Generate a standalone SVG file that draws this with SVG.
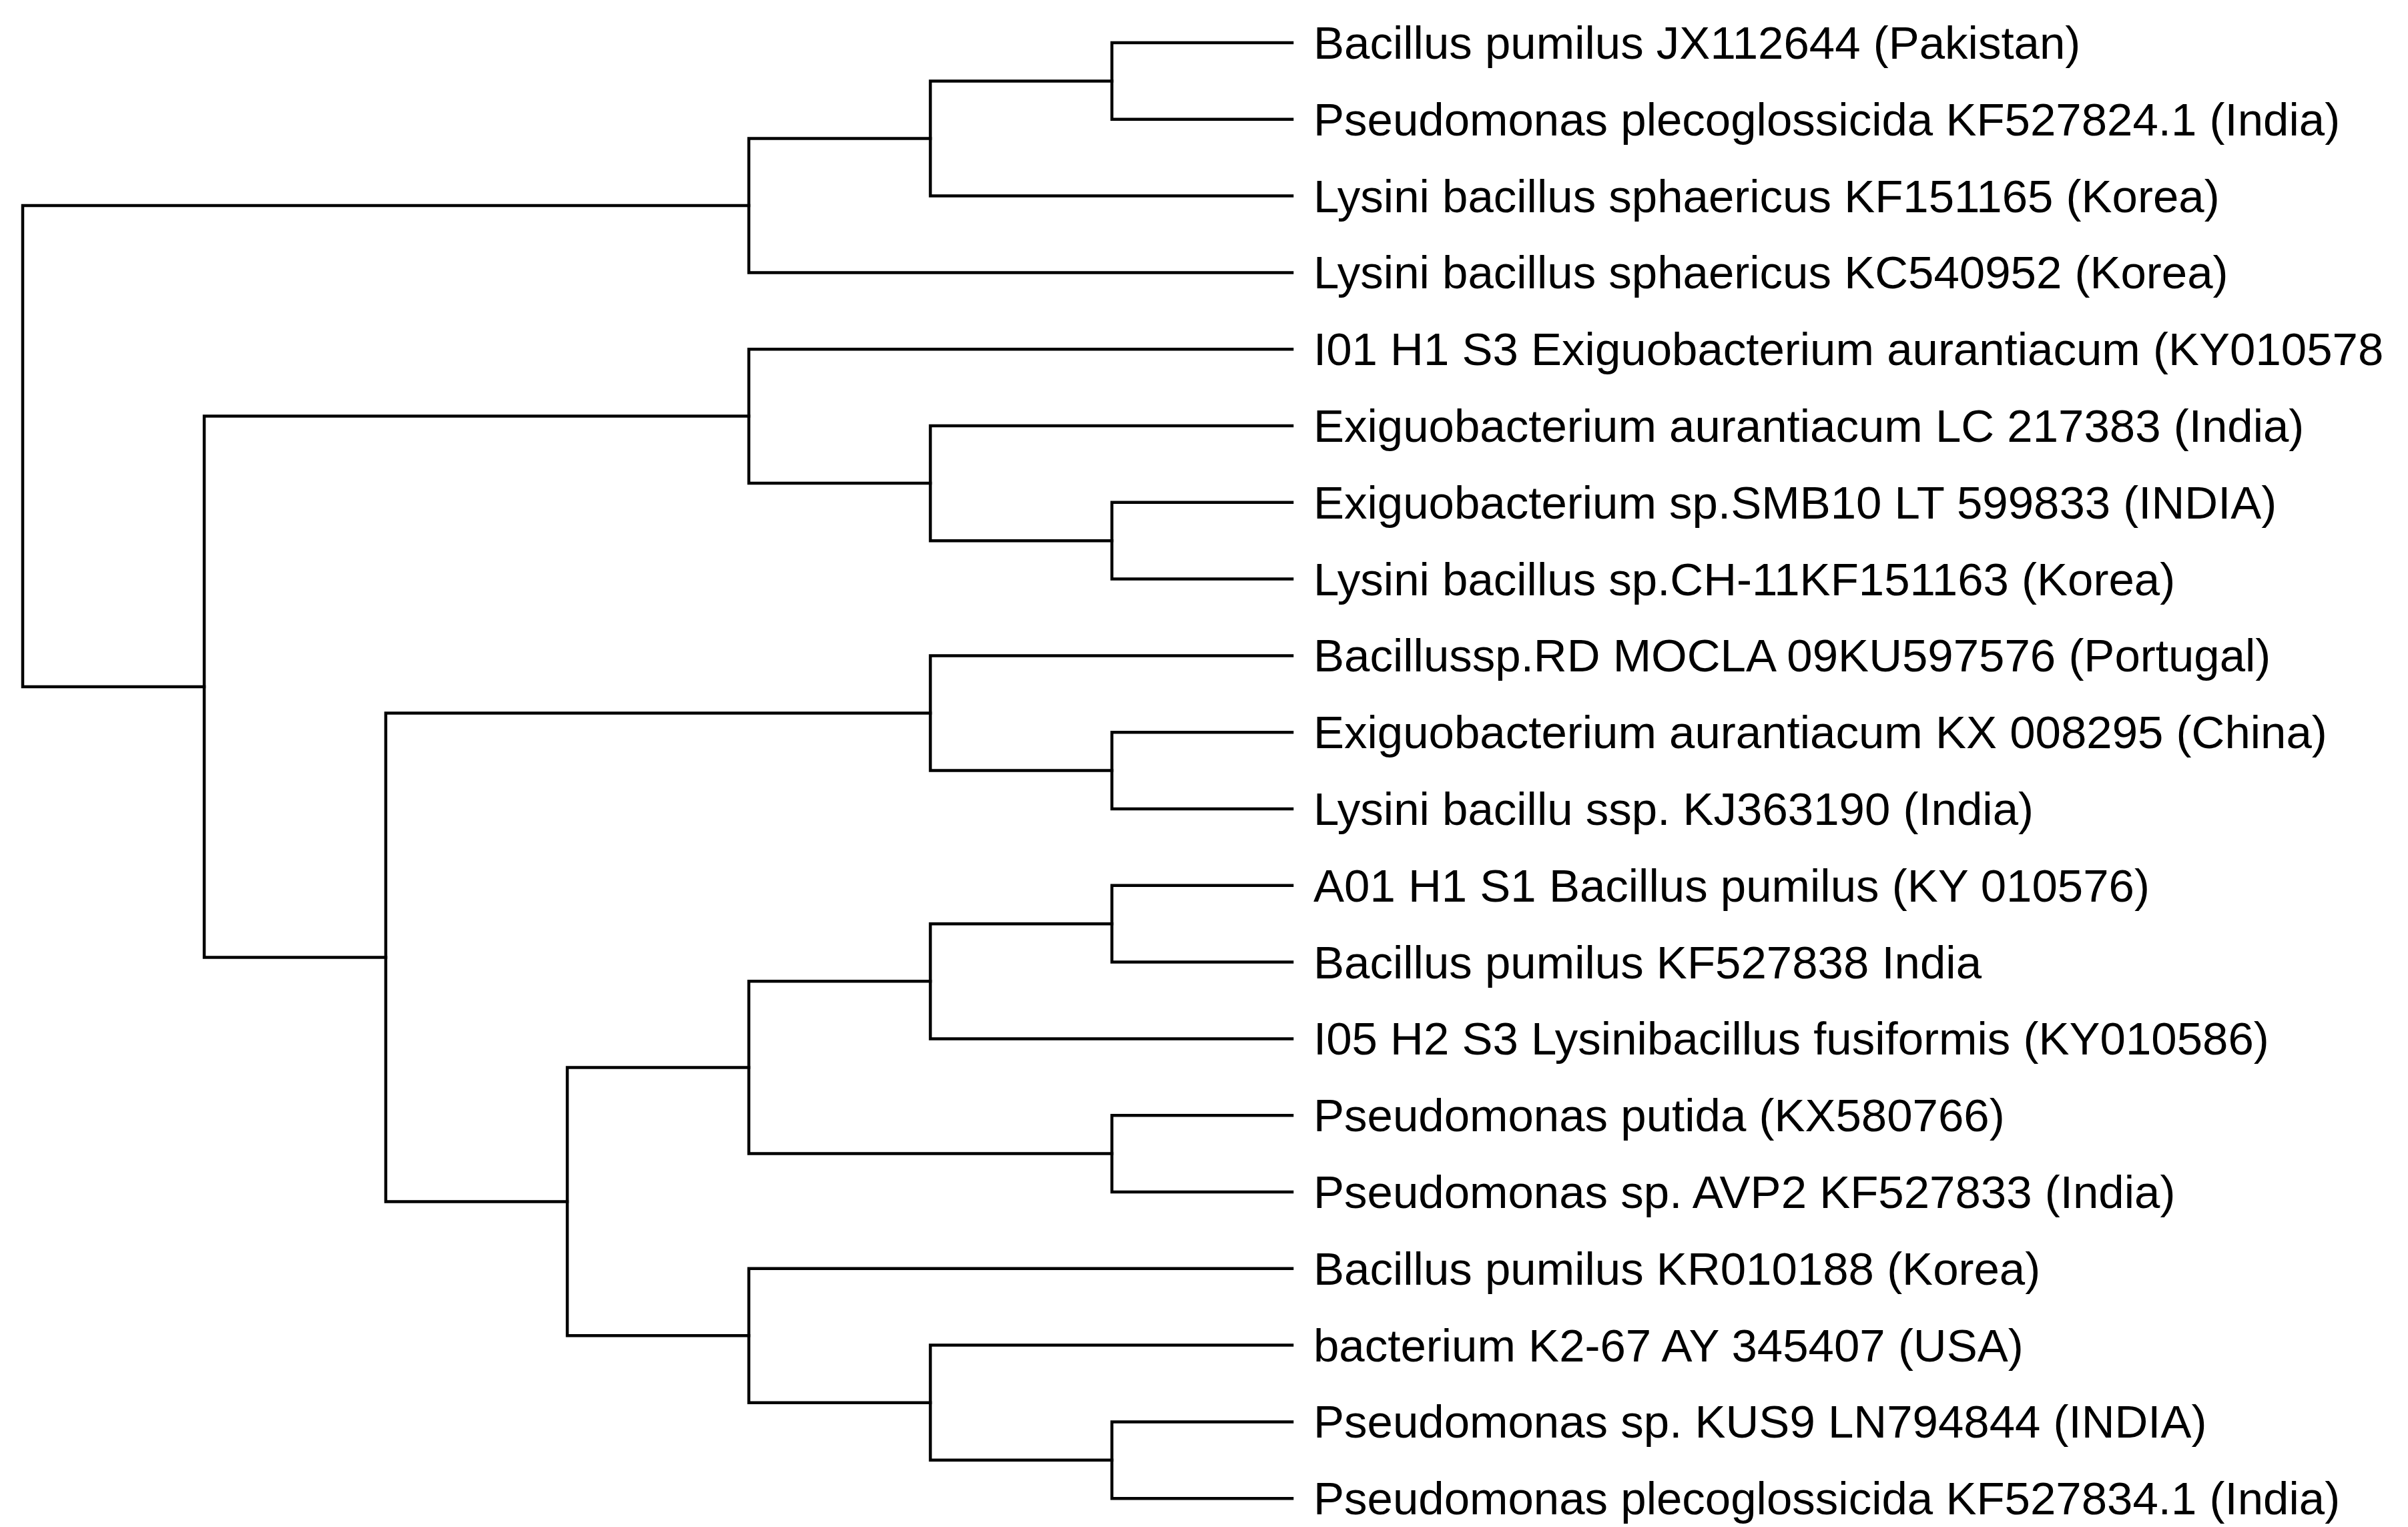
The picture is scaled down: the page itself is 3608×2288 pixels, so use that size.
<svg xmlns="http://www.w3.org/2000/svg" width="3608" height="2288" viewBox="0 0 3608 2288">
<style>
.e{fill:none;stroke:#000;stroke-width:4.5;stroke-linecap:square}
.t{font-family:"Liberation Sans",Arial,sans-serif;font-size:69px;fill:#000}
</style>
<rect width="3608" height="2288" fill="#fff"/>
<g id="connectors">
<path class="e" d="M1122 308 H34 V1029 H306"/>
<path class="e" d="M1394 207.5 H1122 V408.4 H1936"/>
<path class="e" d="M1666 121.4 H1394 V293.6 H1936"/>
<path class="e" d="M1936 64 H1666 V178.8 H1936"/>
<path class="e" d="M1122 623.6 H306 V1434.5 H578"/>
<path class="e" d="M1936 523.2 H1122 V724.1 H1394"/>
<path class="e" d="M1936 638 H1394 V810.2 H1666"/>
<path class="e" d="M1936 752.8 H1666 V867.6 H1936"/>
<path class="e" d="M1394 1068.5 H578 V1800.4 H850"/>
<path class="e" d="M1936 982.4 H1394 V1154.6 H1666"/>
<path class="e" d="M1936 1097.2 H1666 V1212 H1936"/>
<path class="e" d="M1122 1599.5 H850 V2001.3 H1122"/>
<path class="e" d="M1394 1470.3 H1122 V1728.6 H1666"/>
<path class="e" d="M1666 1384.2 H1394 V1556.4 H1936"/>
<path class="e" d="M1936 1326.8 H1666 V1441.6 H1936"/>
<path class="e" d="M1936 1671.2 H1666 V1786 H1936"/>
<path class="e" d="M1936 1900.8 H1122 V2101.7 H1394"/>
<path class="e" d="M1936 2015.6 H1394 V2187.8 H1666"/>
<path class="e" d="M1936 2130.4 H1666 V2245.2 H1936"/>
</g>
<g id="leaf0"><text class="t" x="1968" y="88">Bacillus pumilus JX112644 (Pakistan)</text></g>
<g id="leaf1"><text class="t" x="1968" y="203">Pseudomonas plecoglossicida KF527824.1 (India)</text></g>
<g id="leaf2"><text class="t" x="1968" y="318">Lysini bacillus sphaericus KF151165 (Korea)</text></g>
<g id="leaf3"><text class="t" x="1968" y="432">Lysini bacillus sphaericus KC540952 (Korea)</text></g>
<g id="leaf4"><text class="t" x="1968" y="547">I01 H1 S3 Exiguobacterium aurantiacum (KY010578</text></g>
<g id="leaf5"><text class="t" x="1968" y="662">Exiguobacterium aurantiacum LC 217383 (India)</text></g>
<g id="leaf6"><text class="t" x="1968" y="777">Exiguobacterium sp.SMB10 LT 599833 (INDIA)</text></g>
<g id="leaf7"><text class="t" x="1968" y="892">Lysini bacillus sp.CH-11KF151163 (Korea)</text></g>
<g id="leaf8"><text class="t" x="1968" y="1006">Bacillussp.RD MOCLA 09KU597576 (Portugal)</text></g>
<g id="leaf9"><text class="t" x="1968" y="1121">Exiguobacterium aurantiacum KX 008295 (China)</text></g>
<g id="leaf10"><text class="t" x="1968" y="1236">Lysini bacillu ssp. KJ363190 (India)</text></g>
<g id="leaf11"><text class="t" x="1968" y="1351">A01 H1 S1 Bacillus pumilus (KY 010576)</text></g>
<g id="leaf12"><text class="t" x="1968" y="1466">Bacillus pumilus KF527838 India</text></g>
<g id="leaf13"><text class="t" x="1968" y="1580">I05 H2 S3 Lysinibacillus fusiformis (KY010586)</text></g>
<g id="leaf14"><text class="t" x="1968" y="1695">Pseudomonas putida (KX580766)</text></g>
<g id="leaf15"><text class="t" x="1968" y="1810">Pseudomonas sp. AVP2 KF527833 (India)</text></g>
<g id="leaf16"><text class="t" x="1968" y="1925">Bacillus pumilus KR010188 (Korea)</text></g>
<g id="leaf17"><text class="t" x="1968" y="2040">bacterium K2-67 AY 345407 (USA)</text></g>
<g id="leaf18"><text class="t" x="1968" y="2154">Pseudomonas sp. KUS9 LN794844 (INDIA)</text></g>
<g id="leaf19"><text class="t" x="1968" y="2269">Pseudomonas plecoglossicida KF527834.1 (India)</text></g>
</svg>
